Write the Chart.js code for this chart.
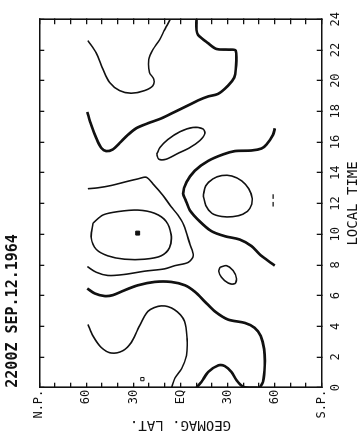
<!DOCTYPE html>
<html><head><meta charset="utf-8">
<script src="https://cdn.jsdelivr.net/npm/chart.js@4.4.0/dist/chart.umd.min.js"></script>
<style>
html,body{margin:0;padding:0;background:#fff;overflow:hidden;width:361px;height:433px;}
#wrap{position:absolute;left:0;top:0;width:433px;height:361px;transform-origin:0 0;transform:translate(0,433px) rotate(-90deg);}
canvas{display:block;}
</style></head><body>
<div id="wrap"><canvas id="c" width="433" height="361"></canvas></div>
<script>
// ---- data (x = local time in hours, y = geomagnetic latitude in degrees) ----
const titleText = '2200Z SEP.12.1964';
const xTitle = 'LOCAL TIME';
const yTitle = 'GEOMAG. LAT.';
const timeTickValues = [0,2,4,6,8,10,12,14,16,18,20,22,24];
const latTickValues = [90,60,30,0,-30,-60,-90];
const latTickLabels = ['N.P.','60','30','EQ','30','60','S.P.'];

const contour1 = [[22.61,59.0],[21.80,53.7],[20.74,49.4],[19.88,45.2],[19.35,38.8],[19.18,31.4],[19.35,22.9],[19.67,17.6],[20.10,17.0],[20.52,19.7],[21.38,20.2],[22.02,17.6],[22.66,13.3],[23.30,10.2],[24.0,6.5]];
const contour2 = [[17.96,59.4],[17.11,56.9],[16.26,53.7],[15.62,50.5],[15.41,47.3],[15.52,43.1],[15.94,38.8],[16.47,33.5],[16.90,28.2],[17.22,20.8],[17.54,12.3],[17.96,3.8],[18.39,-4.9],[18.71,-11.2],[18.97,-17.6],[19.14,-24.0],[19.67,-30.3],[20.20,-34.2],[20.74,-35.2],[21.95,-35.2],[22.02,-30.3],[22.06,-23.0],[22.44,-17.6],[22.98,-11.2],[23.30,-10.2],[24.0,-10.2]];
const contour3 = [[15.20,15.1],[15.64,13.2],[16.16,8.1],[16.67,0.4],[16.95,-7.9],[16.86,-14.2],[16.54,-15.5],[16.09,-12.3],[15.64,-6.0],[15.26,1.7],[14.88,9.3],[14.88,13.8],[15.20,15.1]];
const contour4 = [[16.90,-60.1],[16.47,-59.0],[15.84,-54.8],[15.58,-51.6],[15.45,-45.2],[15.41,-34.6],[15.20,-27.2],[14.77,-17.6],[14.13,-9.1],[13.39,-3.8],[12.64,-1.7],[12.19,-3.4],[11.55,-6.0],[10.83,-12.3],[10.19,-19.8],[9.87,-28.2],[9.65,-37.8],[9.23,-45.2],[8.69,-50.5],[8.27,-55.8],[7.95,-60.1]];
const contour5 = [[12.51,-14.5],[13.15,-16.1],[13.60,-20.6],[13.82,-26.3],[13.79,-32.7],[13.47,-39.1],[12.96,-43.5],[12.32,-45.7],[11.68,-44.2],[11.30,-39.7],[11.14,-33.3],[11.15,-26.3],[11.36,-20.0],[11.87,-16.1],[12.51,-14.5]];
const contour6 = [[10.72,55.8],[11.25,49.4],[11.47,39.9],[11.57,27.2],[11.36,16.5],[10.83,9.1],[9.97,6.0],[9.12,7.0],[8.59,12.3],[8.37,22.9],[8.37,35.6],[8.59,46.3],[9.01,53.7],[9.76,56.9],[10.72,55.8]];
const contour7 = [[12.96,59.0],[13.02,52.6],[13.17,44.2],[13.45,33.5],[13.60,27.2],[13.71,21.9],[13.28,17.6],[12.53,11.2],[11.79,6.0],[11.25,1.7],[10.59,-2.1],[9.33,-6.0],[8.59,-8.1],[8.16,-4.9],[7.95,3.6],[7.74,10.2],[7.59,22.9],[7.38,35.6],[7.31,46.3],[7.52,53.7],[7.89,59.4]];
const contour8 = [[6.46,59.4],[6.14,54.7],[5.97,48.4],[6.03,43.1],[6.35,35.6],[6.67,27.2],[6.89,16.5],[6.89,6.0],[6.67,-2.8],[6.25,-9.1],[5.61,-15.5],[4.97,-21.9],[4.44,-30.3],[4.22,-41.0],[3.90,-47.3],[3.37,-51.2],[2.52,-53.3],[1.45,-53.7],[0.38,-52.6],[0,-50.5]];
const contour9 = [[0,-10.2],[0.38,-13.4],[1.02,-17.6],[1.45,-24.0],[1.41,-28.2],[1.02,-32.5],[0.49,-35.7],[0.06,-39.9],[0,-44.2],[0,-49.2]];
const contour10 = [[4.12,59.0],[3.37,55.8],[2.62,50.5],[2.26,44.2],[2.41,36.7],[2.94,31.4],[3.80,27.2],[4.97,20.8],[5.33,12.3],[5.08,3.8],[4.33,-2.6],[3.16,-4.2],[2.09,-3.8],[1.24,-0.7],[0.62,3.6],[0,5.8]];
const contour11 = [[7.84,-25.1],[7.95,-29.3],[7.63,-33.5],[7.10,-35.7],[6.78,-34.6],[6.82,-30.3],[7.20,-26.1],[7.59,-24.4],[7.84,-25.1]];
const markDash = [[12.6,-59.0],[12.3,-59.0],[12.2,null],[12.1,-59.0],[11.8,-59.0]];
const centerDot = [[10.07,27.3]];
const smallSquare = [[0.56,24.3]];

const thinContours = [contour1, contour3, contour5, contour6, contour7, contour10, contour11];
const thickContours = [contour2, contour4, contour8, contour9];

// ---- chart ----
const INK = '#111';
const FONT = "'DejaVu Sans Mono', monospace";
const toPts = a => a.map(p => ({x: p[0], y: p[1]}));
const lineDs = (a, w) => ({data: toPts(a), showLine: true, borderColor: INK, borderWidth: w,
  pointRadius: 0, tension: 0.3, fill: false, spanGaps: false});

const datasets = [];
thinContours.forEach(c => datasets.push(lineDs(c, 1.6)));
thickContours.forEach(c => datasets.push(lineDs(c, 2.7)));
datasets.push(lineDs(markDash, 1.3));
datasets.push({data: toPts(centerDot), showLine: false, pointStyle: 'rect', pointRadius: 2.8,
  backgroundColor: INK, borderColor: INK, borderWidth: 1});
datasets.push({data: toPts(smallSquare), showLine: false, pointStyle: 'rect', pointRadius: 2.3,
  backgroundColor: '#fff', borderColor: INK, borderWidth: 1});

const gridOpts = {drawOnChartArea: false, drawTicks: true, tickLength: -5, color: INK, lineWidth: 1.3};
const borderOpts = {display: true, color: INK, width: 1.6};
const TITLE_H = 21;

new Chart(document.getElementById('c'), {
  type: 'scatter',
  data: {datasets},
  options: {
    responsive: false, animation: false, devicePixelRatio: 1,
    layout: {padding: 0},
    plugins: {
      legend: {display: false}, tooltip: {enabled: false},
      title: {display: true, text: titleText, align: 'start', fullSize: false, color: INK,
        font: {family: FONT, size: 15, lineHeight: 1}, padding: {top: 6, bottom: 0}}
    },
    scales: {
      x: {type: 'linear', position: 'bottom', min: 0, max: 24,
        afterBuildTicks: s => { s.ticks = timeTickValues.map(v => ({value: v})); },
        ticks: {autoSkip: false, maxRotation: 0, padding: 12, color: INK,
          font: {family: FONT, size: 12, lineHeight: 1.2}, callback: v => String(v)},
        grid: gridOpts, border: borderOpts,
        title: {display: true, text: xTitle, color: INK, font: {family: FONT, size: 14, lineHeight: 1},
          padding: {top: 0, bottom: 1}},
        afterFit: s => { s.height = 39.3; }},
      x2: {type: 'linear', position: 'top', min: 0, max: 24,
        afterBuildTicks: s => { s.ticks = timeTickValues.map(v => ({value: v})); },
        ticks: {display: false}, grid: gridOpts, border: borderOpts,
        afterFit: s => { s.height = 39.3 - TITLE_H; }},
      y: {type: 'linear', position: 'left', min: -90, max: 90,
        ticks: {stepSize: 10, autoSkip: false, padding: 7, color: INK,
          font: {family: FONT, size: 12, lineHeight: 1.2},
          callback: v => { const i = latTickValues.indexOf(v); return i >= 0 ? latTickLabels[i] : ''; }},
        grid: gridOpts, border: borderOpts,
        title: {display: true, text: yTitle, color: INK, font: {family: FONT, size: 14, lineHeight: 1},
          padding: {top: 1, bottom: 0}},
        afterFit: s => { s.width = 45.3; }},
      y2: {type: 'linear', position: 'right', min: -90, max: 90,
        ticks: {display: false, stepSize: 10}, grid: gridOpts, border: borderOpts,
        afterFit: s => { s.width = 12.3; }}
    }
  }
});
</script>
</body></html>
